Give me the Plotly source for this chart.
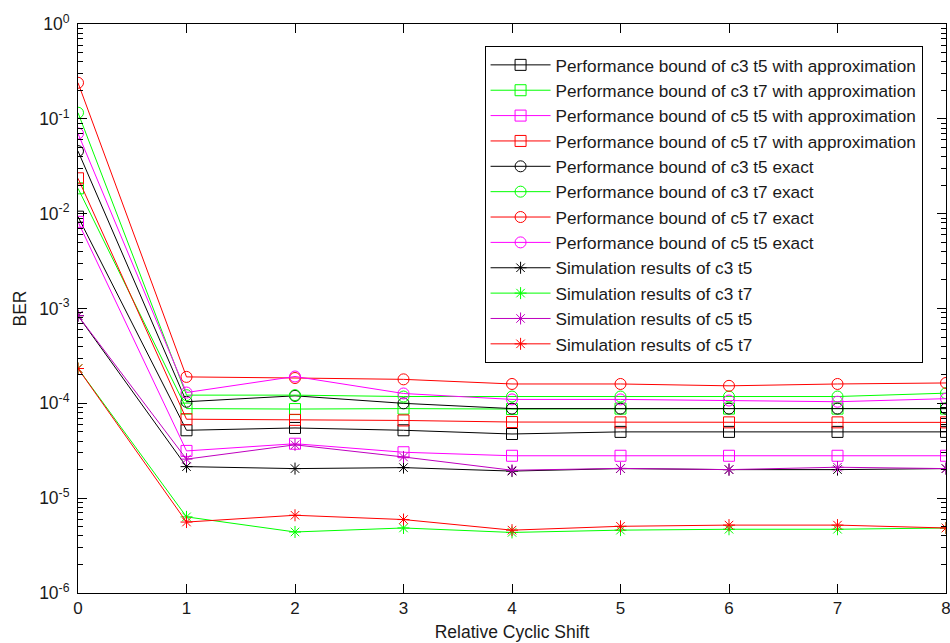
import plotly.graph_objects as go

# Relative cyclic shift values
shift = [0, 1, 2, 3, 4, 5, 6, 7, 8]

# Performance bounds with approximation
approx_c3_t5 = [0.0093, 5.2e-5, 5.5e-5, 5.2e-5, 4.75e-5, 5.0e-5, 5.0e-5, 5.0e-5, 5.0e-5]
approx_c3_t7 = [0.0185, 8.8e-5, 8.7e-5, 8.8e-5, 8.7e-5, 8.8e-5, 8.8e-5, 8.8e-5, 8.8e-5]
approx_c5_t5 = [0.0082, 3.15e-5, 3.75e-5, 3.05e-5, 2.8e-5, 2.8e-5, 2.8e-5, 2.8e-5, 2.8e-5]
approx_c5_t7 = [0.0236, 6.8e-5, 6.7e-5, 6.6e-5, 6.35e-5, 6.3e-5, 6.3e-5, 6.3e-5, 6.3e-5]

# Exact performance bounds
exact_c3_t5 = [0.0457, 1.04e-4, 1.2e-4, 1.0e-4, 8.8e-5, 8.8e-5, 8.8e-5, 8.8e-5, 8.8e-5]
exact_c3_t7 = [0.116, 1.22e-4, 1.22e-4, 1.18e-4, 1.18e-4, 1.18e-4, 1.18e-4, 1.18e-4, 1.28e-4]
exact_c5_t7 = [0.24, 1.9e-4, 1.85e-4, 1.79e-4, 1.6e-4, 1.6e-4, 1.53e-4, 1.6e-4, 1.64e-4]
exact_c5_t5 = [0.070, 1.3e-4, 1.92e-4, 1.27e-4, 1.1e-4, 1.1e-4, 1.07e-4, 1.04e-4, 1.12e-4]

# Simulation results
sim_c3_t5 = [8.4e-4, 2.15e-5, 2.05e-5, 2.1e-5, 1.93e-5, 2.05e-5, 2.0e-5, 2.0e-5, 2.05e-5]
sim_c3_t7 = [2.33e-4, 6.35e-6, 4.4e-6, 4.85e-6, 4.35e-6, 4.6e-6, 4.7e-6, 4.7e-6, 4.85e-6]
sim_c5_t5 = [8.4e-4, 2.58e-5, 3.65e-5, 2.72e-5, 1.97e-5, 2.06e-5, 2.0e-5, 2.12e-5, 2.05e-5]
sim_c5_t7 = [2.33e-4, 5.6e-6, 6.6e-6, 5.95e-6, 4.6e-6, 5.05e-6, 5.2e-6, 5.2e-6, 4.85e-6]

x_ticks = [0, 1, 2, 3, 4, 5, 6, 7, 8]
y_exponents = [-6, -5, -4, -3, -2, -1, 0]

BLACK = "#000000"
GREEN = "#00FF00"
MAGENTA = "#FF00FF"
RED = "#FF0000"
PURPLE = "#BF00BF"

series = [
    ("Performance bound of c3 t5 with approximation", approx_c3_t5, BLACK, "square-open", 11),
    ("Performance bound of c3 t7 with approximation", approx_c3_t7, GREEN, "square-open", 11),
    ("Performance bound of c5 t5 with approximation", approx_c5_t5, MAGENTA, "square-open", 11),
    ("Performance bound of c5 t7 with approximation", approx_c5_t7, RED, "square-open", 11),
    ("Performance bound of c3 t5 exact", exact_c3_t5, BLACK, "circle-open", 11),
    ("Performance bound of c3 t7 exact", exact_c3_t7, GREEN, "circle-open", 11),
    ("Performance bound of c5 t7 exact", exact_c5_t7, RED, "circle-open", 11),
    ("Performance bound of c5 t5 exact", exact_c5_t5, MAGENTA, "circle-open", 11),
    ("Simulation results of c3 t5", sim_c3_t5, BLACK, "asterisk-open", 10),
    ("Simulation results of c3 t7", sim_c3_t7, GREEN, "asterisk-open", 10),
    ("Simulation results of c5 t5", sim_c5_t5, PURPLE, "asterisk-open", 10),
    ("Simulation results of c5 t7", sim_c5_t7, RED, "asterisk-open", 10),
]

fig = go.Figure()
for name, vals, color, symbol, size in series:
    fig.add_trace(go.Scatter(
        x=shift, y=vals, name=name, mode="lines+markers",
        line=dict(color=color, width=1),
        marker=dict(symbol=symbol, size=size, color=color,
                    line=dict(color=color, width=1)),
    ))

FONT = "Liberation Sans, Arial, sans-serif"

minor_vals = [k * 10.0 ** e for e in y_exponents[:-1] for k in range(2, 10)]

fig.update_layout(
    width=950, height=643,
    margin=dict(l=78, r=4, t=24, b=50),
    paper_bgcolor="white", plot_bgcolor="white",
    font=dict(family=FONT, size=17, color="#000000"),
    showlegend=True,
    legend=dict(
        x=0.973, y=0.961, xanchor="right", yanchor="top",
        bordercolor="#000000", borderwidth=1, bgcolor="white",
        itemwidth=60,
        font=dict(family=FONT, size=17.2, color="#1a1a1a"),
    ),
    xaxis=dict(
        range=[0, 8], tickmode="array", tickvals=x_ticks,
        ticktext=[str(v) for v in x_ticks],
        ticks="inside", ticklen=9, tickcolor="#000000",
        showline=True, linecolor="#000000", linewidth=1, mirror="ticks",
        showgrid=False, zeroline=False, ticklabeloverflow="allow",
        automargin=False,
        tickfont=dict(family=FONT, size=17, color="#1a1a1a"),
        title=dict(text="Relative Cyclic Shift", standoff=8,
                   font=dict(family=FONT, size=17.5, color="#1a1a1a")),
    ),
    yaxis=dict(
        type="log", range=[-6, 0], tickmode="array",
        tickvals=[10.0 ** e for e in y_exponents],
        ticktext=[f"10<sup>{e}</sup>" for e in y_exponents],
        ticks="inside", ticklen=9, tickcolor="#000000",
        showline=True, linecolor="#000000", linewidth=1, mirror="ticks",
        showgrid=False, zeroline=False, ticklabelstandoff=4,
        automargin=False,
        minor=dict(tickmode="array", tickvals=minor_vals, ticks="inside",
                   ticklen=5, tickcolor="#000000", showgrid=False),
        tickfont=dict(family=FONT, size=17.5, color="#1a1a1a"),
        title=dict(text="BER", standoff=8,
                   font=dict(family=FONT, size=17.5, color="#1a1a1a")),
    ),
)

fig.write_html("out.html")
